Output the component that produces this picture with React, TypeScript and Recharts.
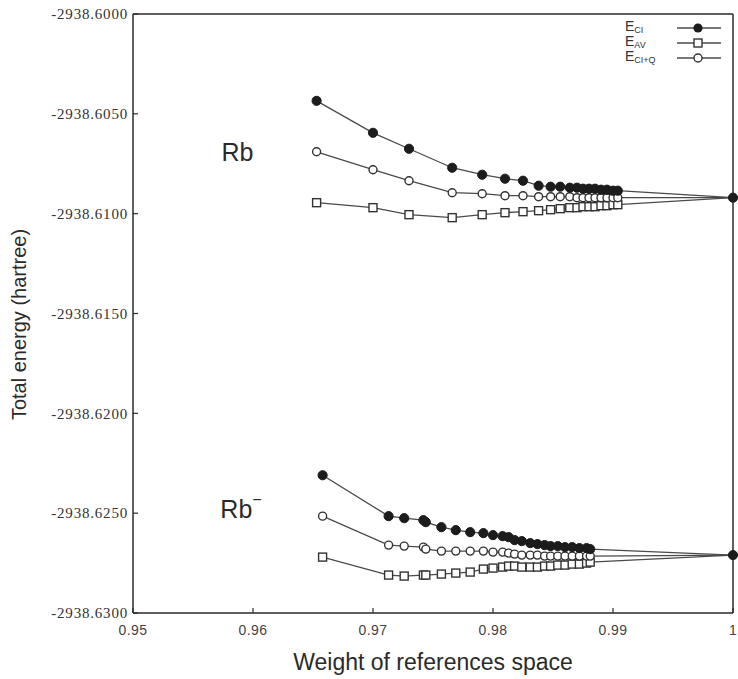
import React from 'react';
import { LineChart, Line, XAxis, YAxis, Legend, ReferenceDot, Label } from 'recharts';

// ---- Data ----
const xTicks = [0.95, 0.96, 0.97, 0.98, 0.99, 1];
const yTicks = [-2938.63, -2938.625, -2938.62, -2938.615, -2938.61, -2938.605, -2938.6];

// Rb (neutral)
const rbX = [0.9653, 0.97, 0.973, 0.9766, 0.9791, 0.981, 0.9825, 0.9838, 0.9848, 0.9856, 0.9864, 0.987, 0.9875, 0.988, 0.9885, 0.989, 0.9895, 0.99, 0.9904];
const rbCI = [-2938.60435, -2938.60595, -2938.60675, -2938.6077, -2938.60805, -2938.60825, -2938.60835, -2938.6086, -2938.60865, -2938.60865, -2938.6087, -2938.6087, -2938.60875, -2938.60875, -2938.60875, -2938.6088, -2938.6088, -2938.60885, -2938.60885];
const rbAV = [-2938.60945, -2938.6097, -2938.61005, -2938.6102, -2938.61005, -2938.60995, -2938.6099, -2938.60985, -2938.6098, -2938.60975, -2938.6097, -2938.6097, -2938.60965, -2938.60965, -2938.60965, -2938.6096, -2938.6096, -2938.60955, -2938.60955];
const rbCIQ = [-2938.6069, -2938.6078, -2938.60835, -2938.60895, -2938.609, -2938.6091, -2938.6091, -2938.60915, -2938.60915, -2938.60915, -2938.60915, -2938.6092, -2938.6092, -2938.6092, -2938.6092, -2938.6092, -2938.6092, -2938.6092, -2938.6092];
const rbLimit = -2938.6092;

// Rb- (anion)
const rbmX = [0.9658, 0.9713, 0.9726, 0.9742, 0.9744, 0.9757, 0.9769, 0.9781, 0.9792, 0.98, 0.9808, 0.9813, 0.9818, 0.9824, 0.9831, 0.9837, 0.9843, 0.9848, 0.9854, 0.986, 0.9866, 0.9872, 0.9878, 0.9881];
const rbmCI = [-2938.6231, -2938.62515, -2938.62525, -2938.62535, -2938.62545, -2938.6257, -2938.62585, -2938.62595, -2938.626, -2938.6261, -2938.62615, -2938.6262, -2938.62635, -2938.6264, -2938.6265, -2938.62655, -2938.6266, -2938.62665, -2938.62665, -2938.6267, -2938.6267, -2938.62675, -2938.62675, -2938.6268];
const rbmCIQ = [-2938.62515, -2938.6266, -2938.62665, -2938.6267, -2938.6268, -2938.6269, -2938.6269, -2938.6269, -2938.6269, -2938.62695, -2938.62695, -2938.627, -2938.62705, -2938.6271, -2938.6271, -2938.6271, -2938.62715, -2938.62715, -2938.62715, -2938.62715, -2938.62715, -2938.62715, -2938.62715, -2938.62715];
const rbmAV = [-2938.6272, -2938.6281, -2938.62815, -2938.6281, -2938.6281, -2938.62805, -2938.628, -2938.62795, -2938.6278, -2938.62775, -2938.6277, -2938.62765, -2938.62765, -2938.6277, -2938.6277, -2938.6277, -2938.62765, -2938.62765, -2938.6276, -2938.6276, -2938.62755, -2938.62755, -2938.6275, -2938.62745];
const rbmLimit = -2938.6271;

const legendItems = [
  { main: 'E', sub: 'CI', marker: 'filled' },
  { main: 'E', sub: 'AV', marker: 'square' },
  { main: 'E', sub: 'CI+Q', marker: 'open' },
];

const build = (xs: number[], ys: number[], limit: number) =>
  xs.map((x, i) => ({ x, y: ys[i] })).concat([{ x: 1, y: limit }]);

const rbCIData = build(rbX, rbCI, rbLimit);
const rbAVData = build(rbX, rbAV, rbLimit);
const rbCIQData = build(rbX, rbCIQ, rbLimit);
const rbmCIData = build(rbmX, rbmCI, rbmLimit);
const rbmAVData = build(rbmX, rbmAV, rbmLimit);
const rbmCIQData = build(rbmX, rbmCIQ, rbmLimit);

const LINE = '#4a4a4a';
const MARK = '#333';
const SANS = '"Liberation Sans", Arial, Helvetica, sans-serif';
const SERIF = '"Liberation Serif", "Times New Roman", serif';

const filledDot = (p: any) => {
  if (p.cx == null || p.cy == null) return <g key={p.key} />;
  return <circle key={p.key} cx={p.cx} cy={p.cy} r={4.6} fill="#1c1c1c" stroke="#1c1c1c" strokeWidth={1} />;
};
const openDot = (p: any) => {
  if (p.cx == null || p.cy == null || (p.payload && p.payload.x === 1)) return <g key={p.key} />;
  return <circle key={p.key} cx={p.cx} cy={p.cy} r={4} fill="#fff" stroke={MARK} strokeWidth={1.4} />;
};
const squareDot = (p: any) => {
  if (p.cx == null || p.cy == null || (p.payload && p.payload.x === 1)) return <g key={p.key} />;
  return <rect key={p.key} x={p.cx - 4} y={p.cy - 4} width={8} height={8} fill="#fff" stroke={MARK} strokeWidth={1.4} />;
};

const EmptyTick = () => <g />;

const LegendMarker = ({ kind }: { kind: string }) => (
  <svg width={44} height={12} style={{ display: 'block' }}>
    <line x1={0} y1={6} x2={44} y2={6} stroke={LINE} strokeWidth={1.5} />
    {kind === 'filled' && <circle cx={21} cy={6} r={4.6} fill="#1c1c1c" />}
    {kind === 'open' && <circle cx={21} cy={6} r={4} fill="#fff" stroke={MARK} strokeWidth={1.4} />}
    {kind === 'square' && <rect x={17} y={2} width={8} height={8} fill="#fff" stroke={MARK} strokeWidth={1.4} />}
  </svg>
);

const renderLegend = () => (
  <div style={{ fontFamily: SANS, color: '#333' }}>
    {legendItems.map((it) => (
      <div key={it.sub} style={{ display: 'flex', alignItems: 'center', height: 15 }}>
        <div style={{ width: 52, height: 15, fontSize: 14, lineHeight: '13px', whiteSpace: 'nowrap' }}>
          {it.main}
          <span style={{ fontSize: 9, lineHeight: '9px', position: 'relative', top: 2 }}>{it.sub}</span>
        </div>
        <LegendMarker kind={it.marker} />
      </div>
    ))}
  </div>
);

const SpeciesLabel = ({ viewBox, text, sup }: any) => {
  const cx = viewBox.x + viewBox.width / 2;
  const cy = viewBox.y + viewBox.height / 2;
  return (
    <text x={cx} y={cy} textAnchor="middle" dominantBaseline="central" fontFamily={SANS} fontSize={25} fill="#2a2a2a">
      {text}
      {sup ? (
        <tspan dy={-10} fontSize={16}>
          {sup}
        </tspan>
      ) : null}
    </text>
  );
};

export default function App() {
  return (
    <div style={{ position: 'absolute', left: 0, top: 0, width: 738, height: 679, background: '#fff' }}>
      <LineChart width={738} height={679} margin={{ top: 13, right: 4, left: 0, bottom: 0 }}>
        <XAxis
          xAxisId={0}
          type="number"
          dataKey="x"
          domain={[0.95, 1]}
          ticks={xTicks}
          interval={0}
          height={66}
          tickSize={-5}
          tickMargin={17}
          tickFormatter={(v: number) => String(v)}
          tick={{ fontFamily: SANS, fontSize: 14, fill: '#444', letterSpacing: 0.4 }}
          axisLine={{ stroke: '#2a2a2a', strokeWidth: 1.5 }}
          tickLine={{ stroke: '#2a2a2a', strokeWidth: 1.2 }}
        >
          <Label value="Weight of references space" position="center" dy={16} style={{ fontFamily: SANS, fontSize: 23, fill: '#2a2a2a' }} />
        </XAxis>
        <XAxis
          xAxisId="top"
          orientation="top"
          type="number"
          domain={[0.95, 1]}
          ticks={xTicks}
          interval={0}
          height={1}
          tickSize={-5}
          tick={EmptyTick}
          axisLine={{ stroke: '#2a2a2a', strokeWidth: 1.5 }}
          tickLine={{ stroke: '#2a2a2a', strokeWidth: 1.2 }}
        />
        <YAxis
          yAxisId={0}
          type="number"
          domain={[-2938.63, -2938.6]}
          ticks={yTicks}
          interval={0}
          width={133}
          tickSize={-5}
          tickMargin={10}
          tickFormatter={(v: number) => v.toFixed(4)}
          tick={{ fontFamily: SERIF, fontSize: 15, fill: '#333', letterSpacing: 0.8 }}
          axisLine={{ stroke: '#2a2a2a', strokeWidth: 1.5 }}
          tickLine={{ stroke: '#2a2a2a', strokeWidth: 1.2 }}
        >
          <Label value="Total energy (hartree)" position="center" angle={-90} dx={-48} dy={11} style={{ fontFamily: SANS, fontSize: 20, fill: '#2a2a2a', textAnchor: 'middle' }} />
        </YAxis>
        <YAxis
          yAxisId="right"
          orientation="right"
          type="number"
          domain={[-2938.63, -2938.6]}
          ticks={yTicks}
          interval={0}
          width={1}
          tickSize={-5}
          tick={EmptyTick}
          axisLine={{ stroke: '#2a2a2a', strokeWidth: 1.5 }}
          tickLine={{ stroke: '#2a2a2a', strokeWidth: 1.2 }}
        />
        <Legend
          layout="vertical"
          align="center"
          verticalAlign="middle"
          content={renderLegend}
          wrapperStyle={{ top: 20, left: 625, width: 110, height: 48 }}
        />

        <Line data={rbAVData} dataKey="y" name="E_AV Rb" stroke={LINE} strokeWidth={1.3} dot={squareDot} isAnimationActive={false} legendType="none" />
        <Line data={rbCIQData} dataKey="y" name="E_CI+Q Rb" stroke={LINE} strokeWidth={1.3} dot={openDot} isAnimationActive={false} legendType="none" />
        <Line data={rbCIData} dataKey="y" name="E_CI Rb" stroke={LINE} strokeWidth={1.3} dot={filledDot} isAnimationActive={false} legendType="none" />
        <Line data={rbmAVData} dataKey="y" name="E_AV Rb-" stroke={LINE} strokeWidth={1.3} dot={squareDot} isAnimationActive={false} legendType="none" />
        <Line data={rbmCIQData} dataKey="y" name="E_CI+Q Rb-" stroke={LINE} strokeWidth={1.3} dot={openDot} isAnimationActive={false} legendType="none" />
        <Line data={rbmCIData} dataKey="y" name="E_CI Rb-" stroke={LINE} strokeWidth={1.3} dot={filledDot} isAnimationActive={false} legendType="none" />

        <ReferenceDot x={0.9587} y={-2938.6069} r={0} stroke="none" fill="none" label={<SpeciesLabel text="Rb" />} />
        <ReferenceDot x={0.959} y={-2938.6248} r={0} stroke="none" fill="none" label={<SpeciesLabel text="Rb" sup="−" />} />
      </LineChart>
    </div>
  );
}
